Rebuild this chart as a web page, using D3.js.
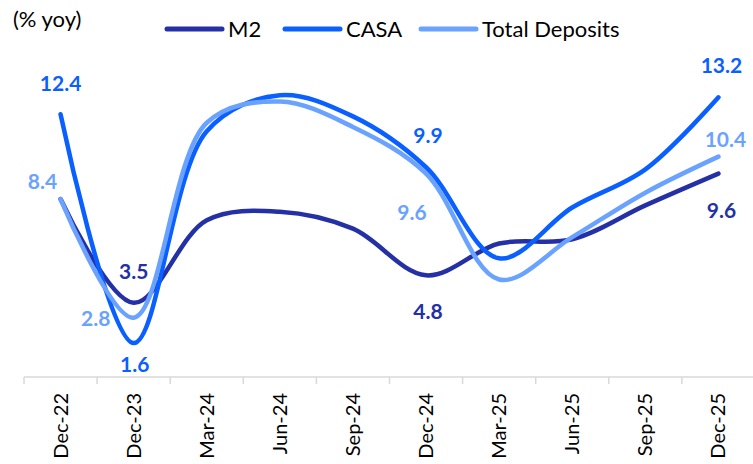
<!DOCTYPE html>
<html>
<head>
<meta charset="utf-8">
<script src="https://cdn.jsdelivr.net/npm/d3@7"></script>
<style>
  body { margin: 0; background: #fff; }
  svg { display: block; font-family: Lato, "Open Sans", sans-serif; }
</style>
</head>
<body>
<svg width="753" height="464"></svg>
<script>
// data (% yoy)
var categories = ["Dec-22", "Dec-23", "Mar-24", "Jun-24", "Sep-24", "Dec-24", "Mar-25", "Jun-25", "Sep-25", "Dec-25"];
var m2 = [8.4, 3.5, 7.4, 7.8, 7.0, 4.8, 6.3, 6.5, 8.1, 9.6];
var casa = [12.4, 1.6, 11.6, 13.3, 12.3, 9.9, 5.6, 8.0, 9.8, 13.2];
var deposits = [8.4, 2.8, 12.0, 13.0, 11.8, 9.6, 4.6, 6.6, 8.7, 10.4];

var seriesNames = ["M2", "CASA", "Total Deposits"];
var colors = ["#2430a6", "#0a5fff", "#6aa2ff"];

var svg = d3.select("svg"),
width = +svg.attr("width"),
height = +svg.attr("height");

var series = [
	{ name: seriesNames[0], values: m2, color: colors[0] },
	{ name: seriesNames[1], values: casa, color: colors[1] },
	{ name: seriesNames[2], values: deposits, color: colors[2] }
];

var x = d3.scaleBand().domain(categories).range([24, 755]);
var y = d3.scaleLinear().domain([0, 16]).range([377, 38]);

function cx(i) { return x(categories[i]) + x.bandwidth() / 2; }

// axis
var axis = svg.append("g").attr("transform", "translate(0,377)");
axis.append("line")
.attr("x1", 24).attr("x2", 753)
.attr("stroke", "#d9d9d9").attr("stroke-width", 1.5);

var edges = categories.map(function(c) { return x(c); });
edges.push(x.range()[1] - 1);
axis.selectAll(".tick").data(edges).enter().append("line")
.attr("x1", function(d) { return d; })
.attr("x2", function(d) { return d; })
.attr("y1", 0).attr("y2", 7)
.attr("stroke", "#d9d9d9").attr("stroke-width", 1.5);

axis.selectAll(".lab").data(categories).enter().append("text")
.attr("transform", function(d) { return "translate(" + (x(d) + x.bandwidth() / 2 + 7) + ",16) rotate(-90)"; })
.attr("text-anchor", "end")
.attr("font-size", 20)
.attr("fill", "#000")
.text(function(d) { return d; });

// lines
var line = d3.line()
.x(function(d, i) { return cx(i); })
.y(function(d) { return y(d); })
.curve(d3.curveCatmullRom.alpha(0.5));

svg.append("g").selectAll("path")
.data(series).enter().append("path")
.attr("d", function(d) { return line(d.values); })
.attr("fill", "none")
.attr("stroke", function(d) { return d.color; })
.attr("stroke-width", 4.5)
.attr("stroke-linecap", "round");

// data labels: series index, point index, offset from the point
var labels = [
	[1, 0, 0, -23], [1, 1, 1, 29], [1, 5, 2, -24], [1, 9, 3, -24],
	[2, 0, -18, -10], [2, 1, -38, 8], [2, 5, -14, 46], [2, 9, 7, -10],
	[0, 1, 0, -24], [0, 5, 2, 44], [0, 9, 3, 44]
];

svg.append("g").selectAll("text")
.data(labels).enter().append("text")
.attr("x", function(d) { return cx(d[1]) + d[2]; })
.attr("y", function(d) { return y(series[d[0]].values[d[1]]) + d[3]; })
.attr("text-anchor", "middle")
.attr("font-size", 21)
.attr("font-weight", "bold")
.attr("fill", function(d) { return series[d[0]].color; })
.text(function(d) { return series[d[0]].values[d[1]].toFixed(1); });

// title
svg.append("text")
.attr("x", 13).attr("y", 27)
.attr("font-size", 22)
.text("(% yoy)");

// legend
var legendX = [167, 285, 421];
var legend = svg.append("g").selectAll("g")
.data(series).enter().append("g")
.attr("transform", function(d, i) { return "translate(" + legendX[i] + ",29)"; });

legend.append("line")
.attr("x1", 0).attr("x2", 55)
.attr("stroke", function(d) { return d.color; })
.attr("stroke-width", 5)
.attr("stroke-linecap", "round");

legend.append("text")
.attr("x", 61).attr("y", 8)
.attr("font-size", 22)
.text(function(d) { return d.name; });
</script>
</body>
</html>
